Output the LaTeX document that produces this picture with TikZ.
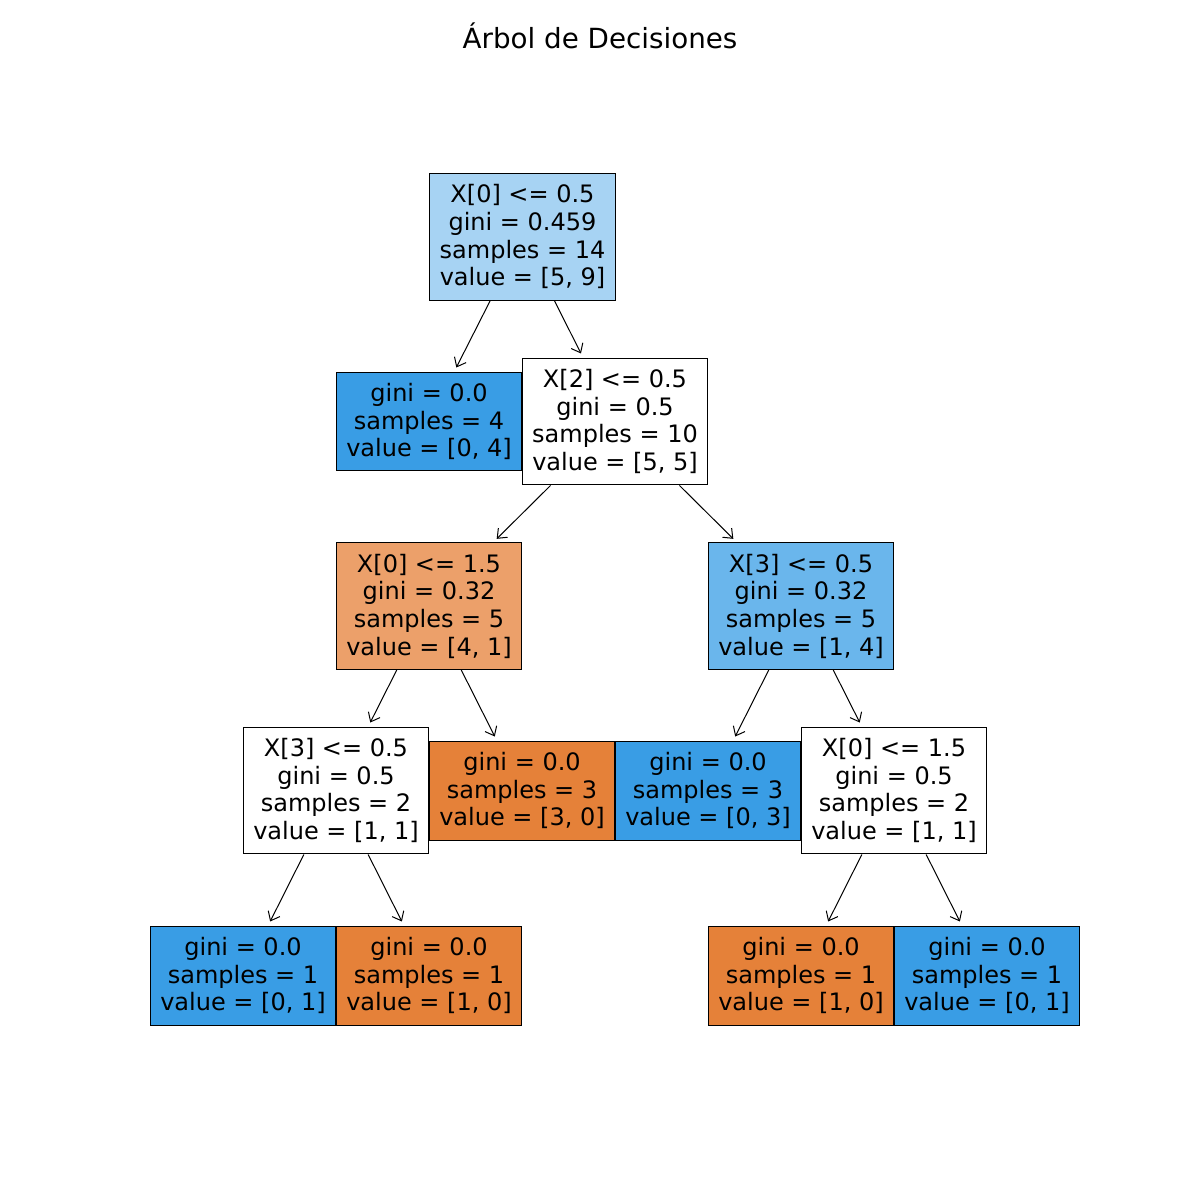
\documentclass[tikz,border=0pt]{standalone}
\usepackage{fontspec}
\setmainfont{DejaVu Sans}
\usetikzlibrary{arrows.meta}
\definecolor{leafblue}{HTML}{399DE5}
\definecolor{leaforange}{HTML}{E58139}
\definecolor{rootblue}{HTML}{A7D3F3}
\definecolor{midorange}{HTML}{ECA06A}
\definecolor{midblue}{HTML}{6AB6EC}

\begin{document}
\begin{tikzpicture}[x=0.02cm,y=-0.02cm,
  treebox/.style={draw=black,line width=0.02cm,inner sep=0pt,minimum width=3.72cm,
    align=center,font=\fontsize{13.66pt}{15.76pt}\selectfont},
  splitbox/.style={treebox,minimum height=2.54cm},
  leafbox/.style={treebox,minimum height=1.98cm},
  branch/.style={-{Straight Barb[length=0.16cm,width=0.26cm]},line width=0.02cm,shorten >=0.09cm}]
\useasboundingbox (0,0) rectangle (1200,1200);

\node[font=\fontsize{15.8pt}{19pt}\selectfont] (title) at (600,36) {Árbol de Decisiones};

% level 0
\node[splitbox,fill=rootblue] (root) at (522.5,236.8)
  {X[0] <= 0.5\\gini = 0.459\\samples = 14\\value = [5, 9]};

% level 1
\node[leafbox,fill=leafblue] (leafA) at (429,421.5)
  {gini = 0.0\\samples = 4\\value = [0, 4]};
\node[splitbox,fill=white] (splitB) at (615,421.5)
  {X[2] <= 0.5\\gini = 0.5\\samples = 10\\value = [5, 5]};

% level 2
\node[splitbox,fill=midorange] (splitC) at (429,606)
  {X[0] <= 1.5\\gini = 0.32\\samples = 5\\value = [4, 1]};
\node[splitbox,fill=midblue] (splitD) at (801,606)
  {X[3] <= 0.5\\gini = 0.32\\samples = 5\\value = [1, 4]};

% level 3
\node[splitbox,fill=white] (splitE) at (336,790.5)
  {X[3] <= 0.5\\gini = 0.5\\samples = 2\\value = [1, 1]};
\node[leafbox,fill=leaforange] (leafF) at (522,790.5)
  {gini = 0.0\\samples = 3\\value = [3, 0]};
\node[leafbox,fill=leafblue] (leafG) at (708,790.5)
  {gini = 0.0\\samples = 3\\value = [0, 3]};
\node[splitbox,fill=white] (splitH) at (894,790.5)
  {X[0] <= 1.5\\gini = 0.5\\samples = 2\\value = [1, 1]};

% level 4
\node[leafbox,fill=leafblue] (leafI) at (243,975.5)
  {gini = 0.0\\samples = 1\\value = [0, 1]};
\node[leafbox,fill=leaforange] (leafJ) at (429,975.5)
  {gini = 0.0\\samples = 1\\value = [1, 0]};
\node[leafbox,fill=leaforange] (leafK) at (801,975.5)
  {gini = 0.0\\samples = 1\\value = [1, 0]};
\node[leafbox,fill=leafblue] (leafL) at (987,975.5)
  {gini = 0.0\\samples = 1\\value = [0, 1]};

\draw[branch] (root) -- (leafA);
\draw[branch] (root) -- (splitB);
\draw[branch] (splitB) -- (splitC);
\draw[branch] (splitB) -- (splitD);
\draw[branch] (splitC) -- (splitE);
\draw[branch] (splitC) -- (leafF);
\draw[branch] (splitD) -- (leafG);
\draw[branch] (splitD) -- (splitH);
\draw[branch] (splitE) -- (leafI);
\draw[branch] (splitE) -- (leafJ);
\draw[branch] (splitH) -- (leafK);
\draw[branch] (splitH) -- (leafL);

\end{tikzpicture}
\end{document}
